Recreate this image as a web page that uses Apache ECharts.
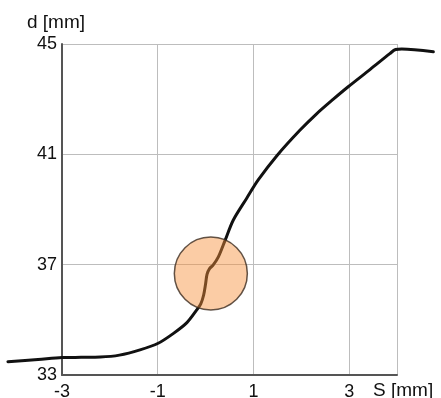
<!DOCTYPE html>
<html>
<head>
<meta charset="utf-8">
<script src="https://cdn.jsdelivr.net/npm/echarts@6/dist/echarts.min.js"></script>
<style>
  html, body { margin: 0; padding: 0; background: #fff; }
  #chart { width: 441px; height: 398px; }
</style>
</head>
<body>
<div id="chart"></div>
<script>
// Profile of diameter d against displacement S
const sValues = [-4.13, -3.5, -3.0, -2.6, -2.2, -1.8, -1.37, -0.99, -0.67, -0.39, -0.185, -0.10, -0.04, 0.0, 0.03, 0.08, 0.16, 0.27, 0.41, 0.58, 0.86, 1.10, 1.49, 1.97, 2.32, 2.67, 2.98, 3.44, 3.85, 3.97, 4.10, 4.76];
const dValues = [33.48, 33.56, 33.63, 33.64, 33.65, 33.72, 33.91, 34.15, 34.51, 34.9, 35.36, 35.58, 35.9, 36.3, 36.65, 36.85, 36.99, 37.29, 37.89, 38.62, 39.41, 40.07, 40.95, 41.87, 42.47, 43.0, 43.45, 44.08, 44.65, 44.8, 44.82, 44.72];

// Highlighted transition point
const markerS = [0.11];
const markerD = [36.68];

// Tick labels
const xTicks = [-3, -1, 1, 3];
const yTicks = [33, 37, 41, 45];

const curve = sValues.map((s, i) => [s, dValues[i]]);
const marker = markerS.map((s, i) => [s, markerD[i]]);

// Frame geometry
const W = 441, H = 398;
const G = { left: 62, right: 44, top: 44, bottom: 23 };
const xMin = -3, xMax = 4;
const unit = (W - G.left - G.right) / (xMax - xMin);
// The curve runs past the frame, so it is drawn on a full-width overlay grid
// whose hidden x axis keeps the same scale as the framed one.
const xMinWide = xMin - G.left / unit;
const xMaxWide = xMax + G.right / unit;

const font = 'Liberation Sans, Arial, sans-serif';
const chart = echarts.init(document.getElementById('chart'));
chart.setOption({
  animation: false,
  backgroundColor: '#fff',
  grid: [
    { left: G.left, right: G.right, top: G.top, bottom: G.bottom, outerBoundsMode: 'none' },
    { left: 0, right: 0, top: G.top, bottom: G.bottom, outerBoundsMode: 'none' }
  ],
  xAxis: [
    {
      type: 'value', gridIndex: 0,
      min: xMin, max: xMax, interval: 2,
      axisLine: { show: true, onZero: false, lineStyle: { color: '#555', width: 2 } },
      axisTick: { show: false },
      splitLine: { show: true, lineStyle: { color: '#bdbdbd', width: 1 } },
      axisLabel: {
        margin: 8, color: '#111', fontSize: 18, fontFamily: font,
        formatter: v => (xTicks.includes(v) ? String(v) : '')
      }
    },
    { type: 'value', gridIndex: 1, min: xMinWide, max: xMaxWide, show: false }
  ],
  yAxis: [
    {
      type: 'value', gridIndex: 0,
      min: 33, max: 45, interval: 4,
      axisLine: { show: true, onZero: false, lineStyle: { color: '#555', width: 2 } },
      axisTick: { show: false },
      splitLine: { show: true, lineStyle: { color: '#bdbdbd', width: 1 } },
      axisLabel: {
        margin: 5, color: '#111', fontSize: 18, fontFamily: font,
        formatter: v => (yTicks.includes(v) ? String(v) : '')
      }
    },
    { type: 'value', gridIndex: 1, min: 33, max: 45, show: false }
  ],
  graphic: [
    { type: 'text', left: 27, top: 13, style: { text: 'd [mm]', fontSize: 19, fontFamily: font, fill: '#111' } },
    { type: 'text', left: 373, top: 381, style: { text: 'S [mm]', fontSize: 19, fontFamily: font, fill: '#111' } }
  ],
  series: [
    {
      type: 'line',
      xAxisIndex: 1, yAxisIndex: 1,
      data: curve,
      smooth: 0.3,
      symbol: 'none',
      lineStyle: { color: '#111', width: 3, join: 'round', cap: 'round' },
      z: 2
    },
    {
      type: 'scatter',
      xAxisIndex: 0, yAxisIndex: 0,
      data: marker,
      symbol: 'circle',
      symbolSize: 73,
      itemStyle: { color: 'rgba(246,142,58,0.57)', borderColor: '#3b2a1e', borderWidth: 1.5 },
      z: 3
    }
  ]
});
</script>
</body>
</html>
